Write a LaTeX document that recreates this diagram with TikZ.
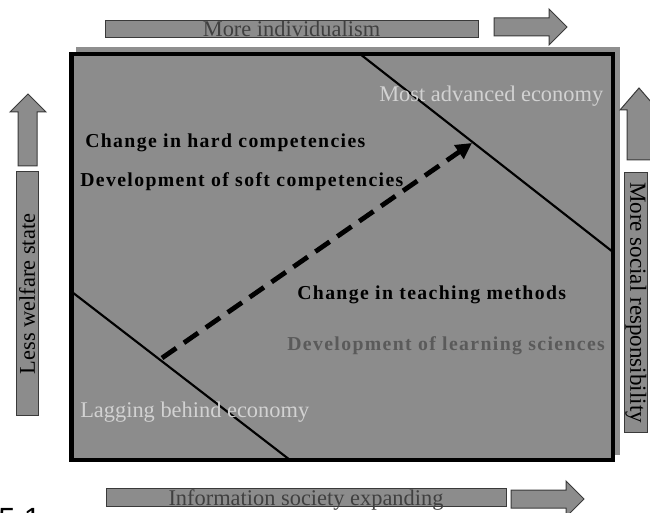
\documentclass[tikz,border=0pt]{standalone}
\usepackage{fontspec}
\setmainfont{Liberation Serif}
\newfontfamily\spacedfont[LetterSpace=7]{Liberation Serif}
\newfontfamily\arialfont{Liberation Sans}
\usetikzlibrary{arrows.meta}
\definecolor{boxgray}{HTML}{8C8C8C}
\definecolor{shadowgray}{HTML}{8F8F8F}
\definecolor{edgegray}{HTML}{3A3A3A}
\definecolor{lighttext}{HTML}{D2D2D2}
\definecolor{midtext}{HTML}{5A5A5A}
\definecolor{bartext}{HTML}{404040}
\begin{document}
\begin{tikzpicture}[x=0.75pt,y=-0.75pt,
  barbox/.style={draw=edgegray, line width=0.75pt, fill=boxgray, line join=miter},
  reglabel/.style={inner sep=0pt, anchor=base west, font=\fontsize{16.8}{20}\selectfont},
  boldlabel/.style={inner sep=0pt, anchor=base west, font=\spacedfont\bfseries\fontsize{14.8}{18}\selectfont},
  bartextstyle/.style={inner sep=0pt, anchor=base, font=\fontsize{16.8}{20}\selectfont},
  sidetext/.style={inner sep=0pt, text=black},
  divider/.style={line width=1.6pt, black},
  trend/.style={line width=3.6pt, dash pattern=on 13pt off 7pt, -{Triangle[length=12pt,width=12pt]}}
]
\useasboundingbox (0,0) rectangle (650,513);

% main field with shadow
\fill[shadowgray] (76,47) rectangle (620,455);
\draw[line width=3.3pt, fill=boxgray] (71.5,54) rectangle (613,460);

% dividing lines
\coordinate (tra) at (360,54);
\coordinate (trb) at (613,252);
\coordinate (bla) at (72,292);
\coordinate (blb) at (290,460);
\draw[divider] (tra) -- (trb);
\draw[divider] (bla) -- (blb);

% dashed trend arrow
\coordinate (ds) at (162,358);
\coordinate (de) at (472,143);
\draw[trend] (ds) -- (de);

% texts inside field
\node[reglabel, text=lighttext] (most) at (379,102) {Most advanced economy};
\node[reglabel, text=lighttext] (lag) at (80,417) {Lagging behind economy};
\node[boldlabel, text=black] (hard) at (85,148) {Change in hard competencies};
\node[boldlabel, text=black] (soft) at (80,187) {Development of soft competencies};
\node[boldlabel, text=black] (teach) at (297,300) {Change in teaching methods};
\node[boldlabel, text=midtext] (learn) at (287,351) {Development of learning sciences};

% top bar and arrow
\draw[barbox] (105,21) rectangle (478,38);
\node[bartextstyle, text=bartext] (indiv) at (291.5,37) {More individualism};
\draw[barbox] (494,18) -- (549,18) -- (549,9) -- (567,27) -- (549,45) -- (549,36) -- (494,36) -- cycle;

% bottom bar and arrow
\draw[barbox] (106,488) rectangle (506,506);
\node[bartextstyle, text=bartext] (info) at (306,505) {Information society expanding};
\draw[barbox] (511,490) -- (566,490) -- (566,481) -- (584,499) -- (566,517) -- (566,508) -- (511,508) -- cycle;

% left arrow and bar
\draw[barbox] (18,166) -- (18,112) -- (10,112) -- (28,94) -- (46,112) -- (37,112) -- (37,166) -- cycle;
\draw[barbox] (16,172) rectangle (38,415);
\node[sidetext, rotate=90, font=\fontsize{16.8}{20}\selectfont] (welfare) at (27,294) {Less welfare state};

% right arrow and bar
\draw[barbox] (627,160) -- (627,110) -- (620,110) -- (639,88) -- (658,110) -- (651,110) -- (651,160) -- cycle;
\draw[barbox] (624,173) rectangle (647,432);
\node[sidetext, rotate=-90, font=\fontsize{17.3}{20}\selectfont] (social) at (636,302.5) {More social responsibility};

% figure number, cut off at the bottom
\node[inner sep=0pt, anchor=base west, font=\arialfont\fontsize{23}{26}\selectfont] (fignum) at (-2,529) {5.1};
\end{tikzpicture}
\end{document}
